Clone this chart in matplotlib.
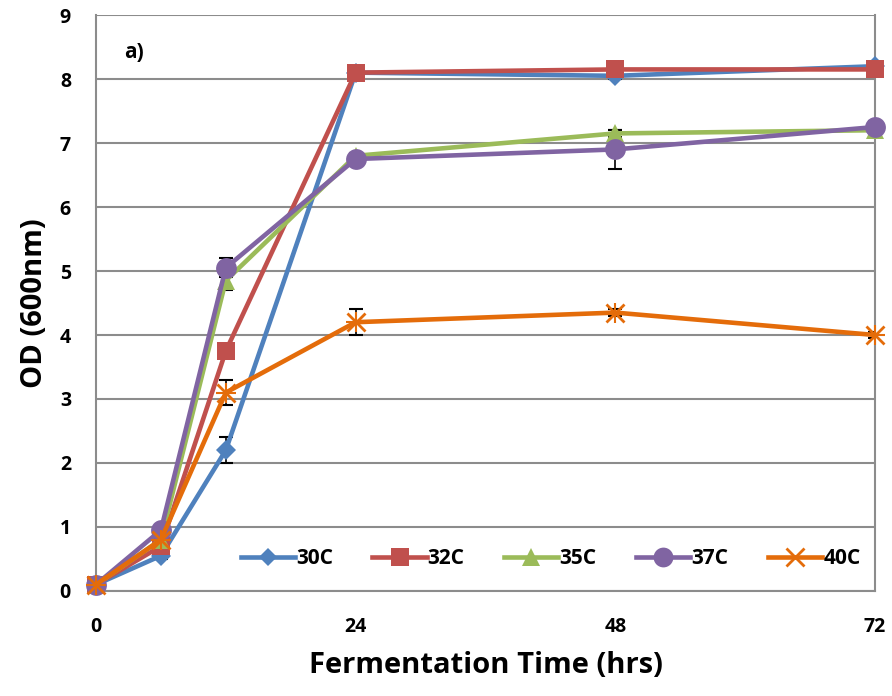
# OD growth curves at different fermentation temperatures

import matplotlib
matplotlib.use('Agg')
import matplotlib.pyplot as plt

plt.rcParams['font.family'] = ['Open Sans', 'DejaVu Sans']
plt.rcParams['font.weight'] = 'bold'

hours = [0, 6, 12, 24, 48, 72]

od_30 = [0.1, 0.55, 2.2, 8.1, 8.05, 8.2]
od_32 = [0.1, 0.7, 3.75, 8.1, 8.15, 8.15]
od_35 = [0.1, 0.8, 4.85, 6.8, 7.15, 7.2]
od_37 = [0.1, 0.95, 5.05, 6.75, 6.9, 7.25]
od_40 = [0.1, 0.8, 3.1, 4.2, 4.35, 4.0]

err_30 = [0.0, 0.05, 0.2, 0.05, 0.05, 0.05]
err_32 = [0.0, 0.05, 0.1, 0.05, 0.05, 0.05]
err_35 = [0.0, 0.05, 0.15, 0.05, 0.05, 0.05]
err_37 = [0.0, 0.05, 0.15, 0.05, 0.3, 0.1]
err_40 = [0.0, 0.05, 0.2, 0.2, 0.05, 0.05]

labels = ['30C', '32C', '35C', '37C', '40C']

fig = plt.figure(figsize=(8.92, 6.96), dpi=100)
ax = fig.add_axes([0.1076, 0.1509, 0.8733, 0.8275])

series = [
    (od_30, err_30, '#4F81BD', 'D', 10),
    (od_32, err_32, '#C0504D', 's', 13),
    (od_35, err_35, '#9BBB59', '^', 13),
    (od_37, err_37, '#8064A2', 'o', 15),
    (od_40, err_40, '#E46C0A', 'x', 13),
]

for (y, e, c, m, ms), lab in zip(series, labels):
    ax.errorbar(hours, y, yerr=e, fmt='none', ecolor='black', elinewidth=1.2,
                capsize=5, capthick=1.5, zorder=2)
    mew = 2 if m == 'x' else 0
    ax.plot(hours, y, color=c, lw=3.3, marker=m, ms=ms, mfc=c, mec=c,
            mew=mew, label=lab, zorder=3, clip_on=False)
    if m == 'x':
        ax.plot(hours, y, ls='none', marker='+', ms=ms + 2, mec=c, mew=1.5,
                zorder=3, clip_on=False)

ax.set_xlim(0, 72)
ax.set_ylim(0, 9)
ax.set_xticks([0, 24, 48, 72])
ax.set_yticks(range(0, 10))
ax.tick_params(axis='both', length=0, labelsize=14)
ax.tick_params(axis='x', pad=19)
ax.tick_params(axis='y', pad=18)
ax.grid(axis='y', color='#8C8C8C', lw=1.5)
ax.set_axisbelow(True)
for sp in ax.spines.values():
    sp.set_color('#8C8C8C')
    sp.set_linewidth(1.5)
ax.spines['top'].set_visible(False)

ax.set_xlabel('Fermentation Time (hrs)', fontsize=21, fontweight='bold', labelpad=10)
ax.set_ylabel('OD (600nm)', fontsize=21, fontweight='bold', labelpad=8)

ax.text(2.6, 8.42, 'a)', fontsize=15, fontweight='bold', va='center')

ax.legend(loc='lower right', bbox_to_anchor=(1.0, 0.012), ncol=5, frameon=False,
          fontsize=15, handlelength=2.6, columnspacing=1.9, handletextpad=0.05,
          borderaxespad=0.3, markerscale=0.95)

fig.savefig('out.png', dpi=100)
